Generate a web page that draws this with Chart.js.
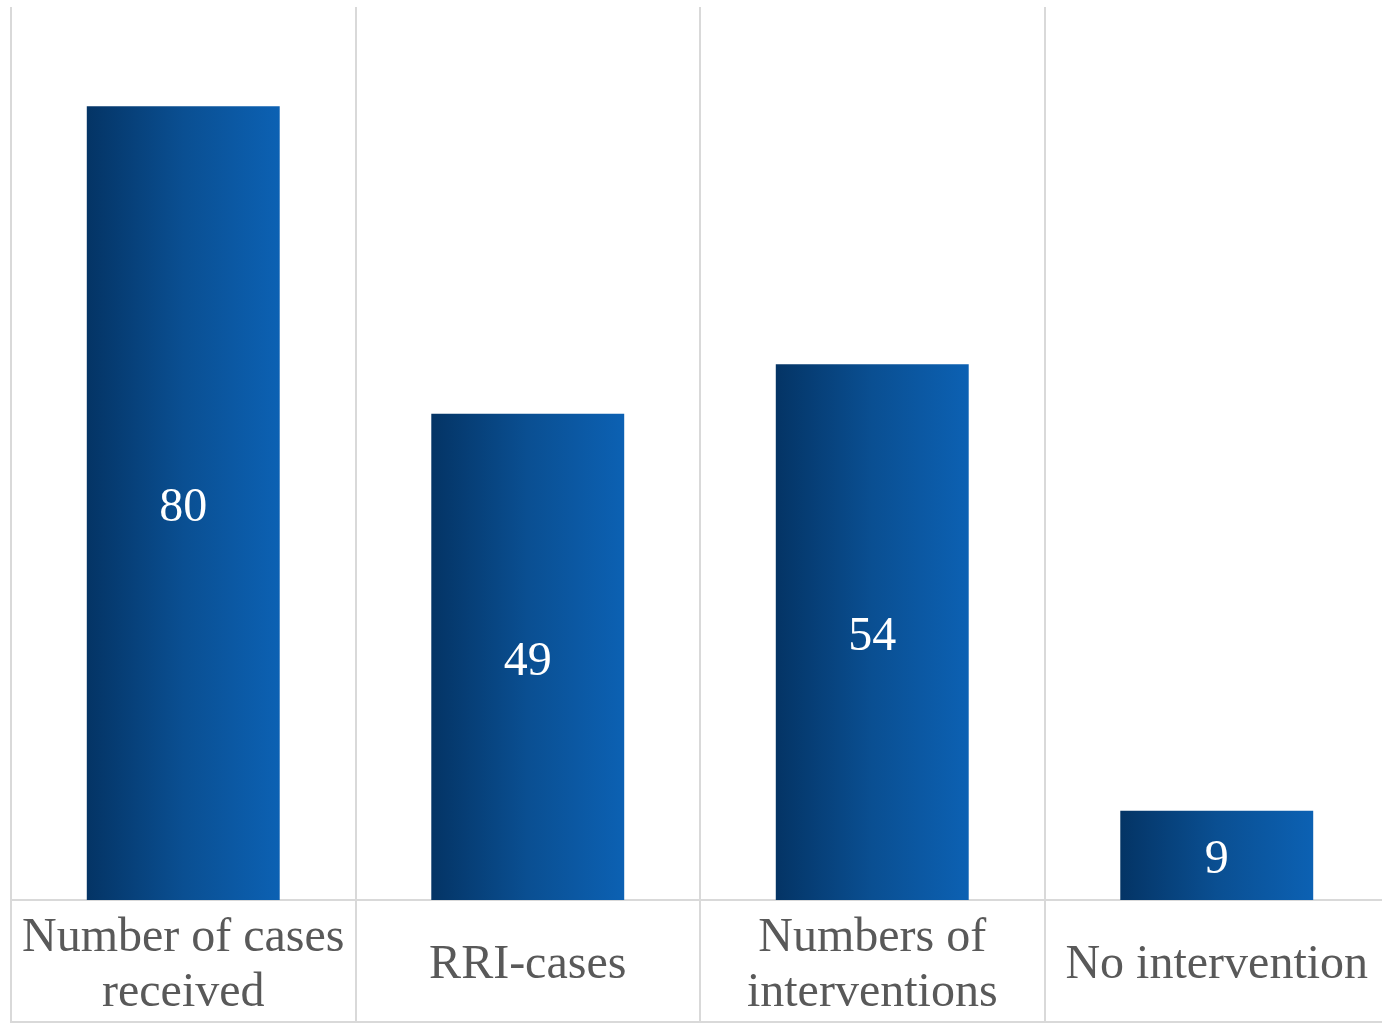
<!DOCTYPE html>
<html>
<head>
<meta charset="utf-8">
<script src="https://cdn.jsdelivr.net/npm/chart.js@4/dist/chart.umd.min.js"></script>
<style>
  html, body { margin: 0; padding: 0; background: #ffffff; overflow: hidden; }
  #wrap { width: 1390px; height: 1024px; position: relative; }
</style>
</head>
<body>
<div id="wrap"><canvas id="c"></canvas></div>
<script>
const categories = [
  ["Number of cases", "received"],
  "RRI-cases",
  ["Numbers of", "interventions"],
  "No intervention"
];
const values = [80, 49, 54, 9];
const yMin = 0;
const yMax = 90;

const GRID = '#d9d9d9';
const BAR_PCT = 0.56;

const barGradient = (ctx) => {
  const chart = ctx.chart;
  const xs = chart.scales && chart.scales.x;
  if (!chart.chartArea || !xs) return '#0a4f96';
  const cx = xs.getPixelForValue(ctx.dataIndex);
  const half = (xs.width / categories.length) * BAR_PCT / 2;
  const g = chart.ctx.createLinearGradient(cx - half, 0, cx + half, 0);
  g.addColorStop(0, '#043465');
  g.addColorStop(0.5, '#0a4f92');
  g.addColorStop(1, '#0c61b3');
  return g;
};

const valueLabels = {
  id: 'valueLabels',
  afterDatasetsDraw(chart) {
    const ctx = chart.ctx;
    const meta = chart.getDatasetMeta(0);
    ctx.save();
    ctx.fillStyle = '#ffffff';
    ctx.font = '48px "Liberation Serif"';
    ctx.textAlign = 'center';
    ctx.textBaseline = 'middle';
    meta.data.forEach((el, i) => {
      const p = el.getProps(['x', 'y', 'base'], true);
      ctx.fillText(String(values[i]), p.x, (p.y + p.base) / 2 + 5);
    });
    ctx.restore();
  }
};

const bottomLine = {
  id: 'bottomLine',
  afterDraw(chart) {
    const xs = chart.scales.x;
    const ctx = chart.ctx;
    ctx.save();
    ctx.strokeStyle = GRID;
    ctx.lineWidth = 2;
    ctx.beginPath();
    ctx.moveTo(chart.chartArea.left - 1, xs.top + 122);
    ctx.lineTo(chart.chartArea.right + 1, xs.top + 122);
    ctx.stroke();
    ctx.restore();
  }
};

new Chart(document.getElementById('c'), {
  type: 'bar',
  data: {
    labels: categories,
    datasets: [{
      data: values,
      backgroundColor: barGradient,
      borderWidth: 0,
      barPercentage: BAR_PCT,
      categoryPercentage: 1.0
    }]
  },
  options: {
    responsive: true,
    maintainAspectRatio: false,
    animation: false,
    devicePixelRatio: 1,
    layout: { padding: { left: 11, right: 1, top: 7, bottom: 0 } },
    plugins: {
      legend: { display: false },
      tooltip: { enabled: false }
    },
    scales: {
      x: {
        offset: true,
        grid: {
          display: true,
          offset: true,
          color: GRID,
          lineWidth: 2,
          drawTicks: true,
          tickLength: 122
        },
        border: { display: true, color: GRID, width: 2 },
        ticks: {
          color: '#595959',
          font: { family: '"Liberation Serif"', size: 48, lineHeight: 1.15 },
          padding: -84,
          crossAlign: 'center',
          maxRotation: 0,
          minRotation: 0,
          autoSkip: false
        },
        afterFit: (scale) => { scale.height = 124; }
      },
      y: {
        display: false,
        min: yMin,
        max: yMax
      }
    }
  },
  plugins: [valueLabels, bottomLine]
});
</script>
</body>
</html>
